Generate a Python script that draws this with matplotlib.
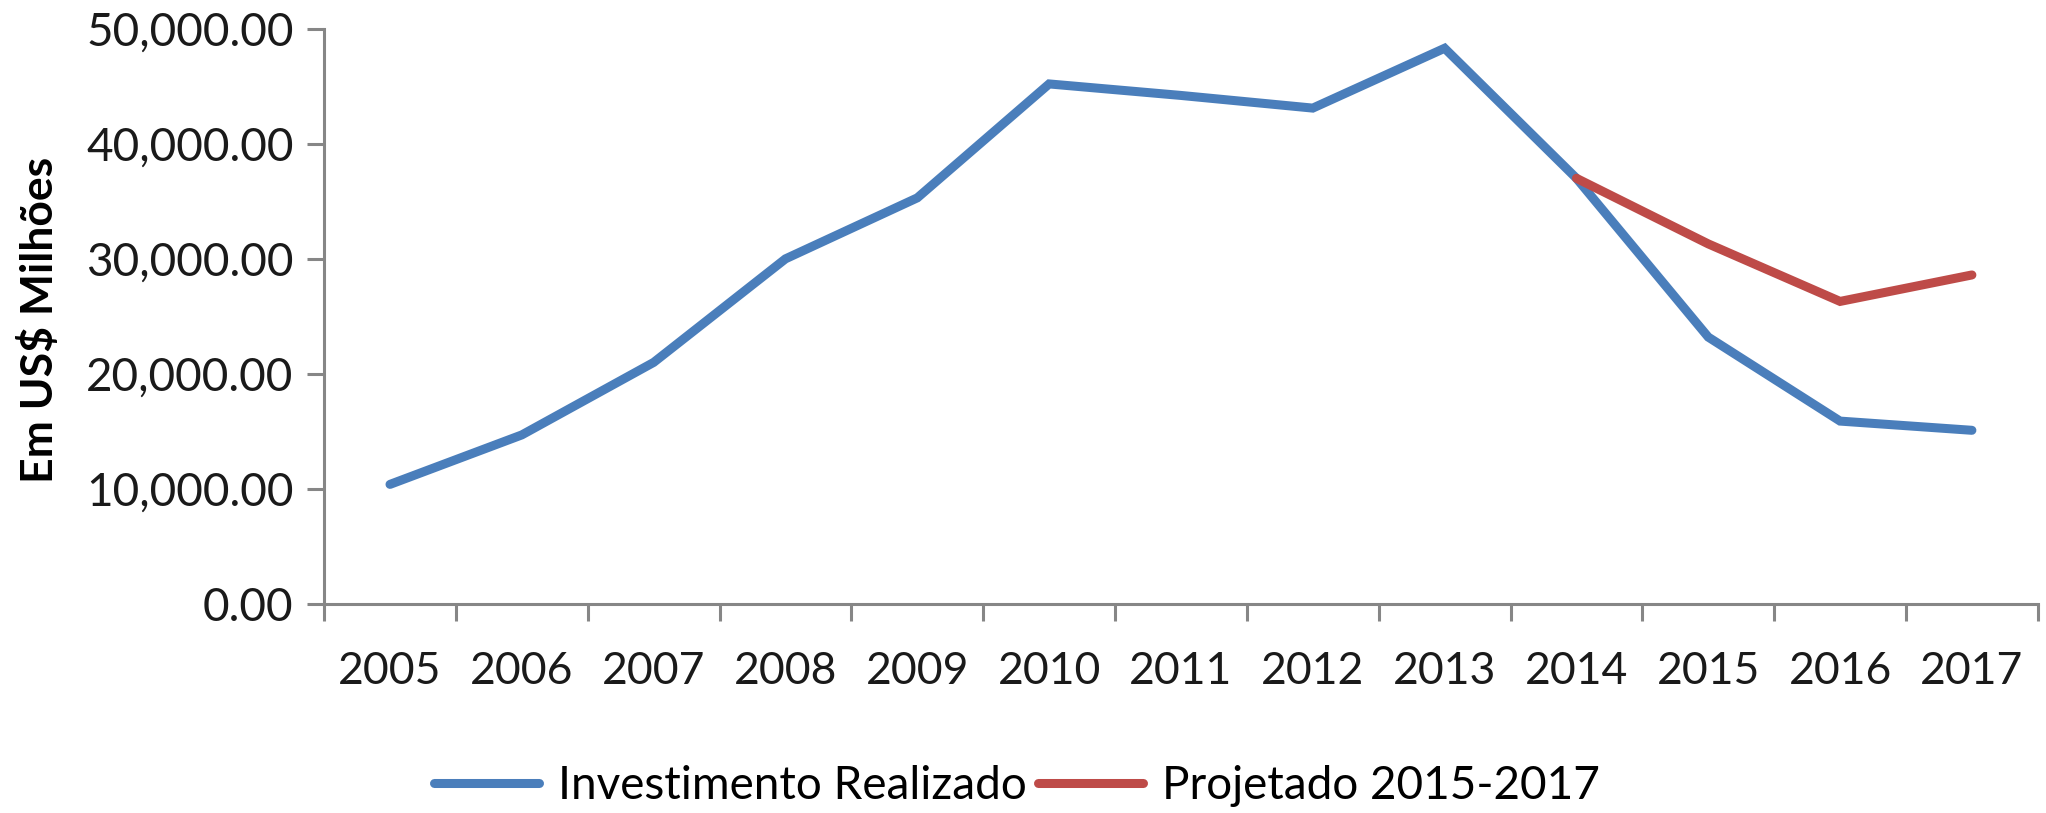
import matplotlib
matplotlib.use("Agg")
import matplotlib.pyplot as plt
import numpy as np
from matplotlib.ticker import FixedLocator, FuncFormatter

years = ["2005", "2006", "2007", "2008", "2009", "2010", "2011",
         "2012", "2013", "2014", "2015", "2016", "2017"]
realizado = [10400, 14700, 21000, 30000, 35300, 45200, 44200,
             43100, 48300, 37000, 23200, 15900, 15100]
proj_years = ["2014", "2015", "2016", "2017"]
projetado = [37000, 31300, 26300, 28600]
yticks = [0, 10000, 20000, 30000, 40000, 50000]

plt.rcParams['font.family'] = ['Lato', 'DejaVu Sans']

fig = plt.figure(figsize=(20.46, 8.13), dpi=100)
ax = fig.add_axes([0.1584, 0.257, 0.996 - 0.1584, 0.9647 - 0.257])

x = np.arange(len(years))
px = [years.index(y) for y in proj_years]

blue = "#4A7EBB"
red = "#BE4B48"
ax.plot(x, realizado, color=blue, lw=6.5, solid_joinstyle='miter',
        solid_capstyle='round', label="Investimento Realizado")
ax.plot(px, projetado, color=red, lw=6.5, solid_joinstyle='miter',
        solid_capstyle='round', label="Projetado 2015-2017")

ax.set_xlim(-0.5, len(years) - 0.5)
ax.set_ylim(0, 50000)

gray = "#868686"
for s in ["top", "right"]:
    ax.spines[s].set_visible(False)
for s in ["left", "bottom"]:
    ax.spines[s].set_color(gray)
    ax.spines[s].set_linewidth(2.2)

ax.yaxis.set_major_locator(FixedLocator(yticks))
ax.yaxis.set_major_formatter(FuncFormatter(lambda v, p: f"{v:,.2f}"))
ax.tick_params(axis='y', length=12, width=2.2, color=gray, pad=10,
               labelsize=33, labelcolor="#1a1a1a")

ax.xaxis.set_major_locator(FixedLocator(np.arange(-0.5, len(years), 1.0)))
ax.xaxis.set_major_formatter(FuncFormatter(lambda v, p: ""))
ax.xaxis.set_minor_locator(FixedLocator(x))
ax.set_xticks(x, labels=years, minor=True)
ax.tick_params(axis='x', which='major', length=12, width=2.2, color=gray)
ax.tick_params(axis='x', which='minor', length=0, pad=34, labelsize=32,
               labelcolor="#1a1a1a")

fig.text(0.019, 0.607, "Em US$ Milhões", rotation=90, fontsize=32,
         fontweight='bold', ha='center', va='center', color="#000000")

leg = fig.legend(loc='center', bbox_to_anchor=(0.497, 0.033), ncol=2,
                 frameon=False, fontsize=33, handlelength=2.3,
                 handletextpad=0.4, columnspacing=0.25, borderaxespad=0)

fig.savefig("out.png", dpi=100)
